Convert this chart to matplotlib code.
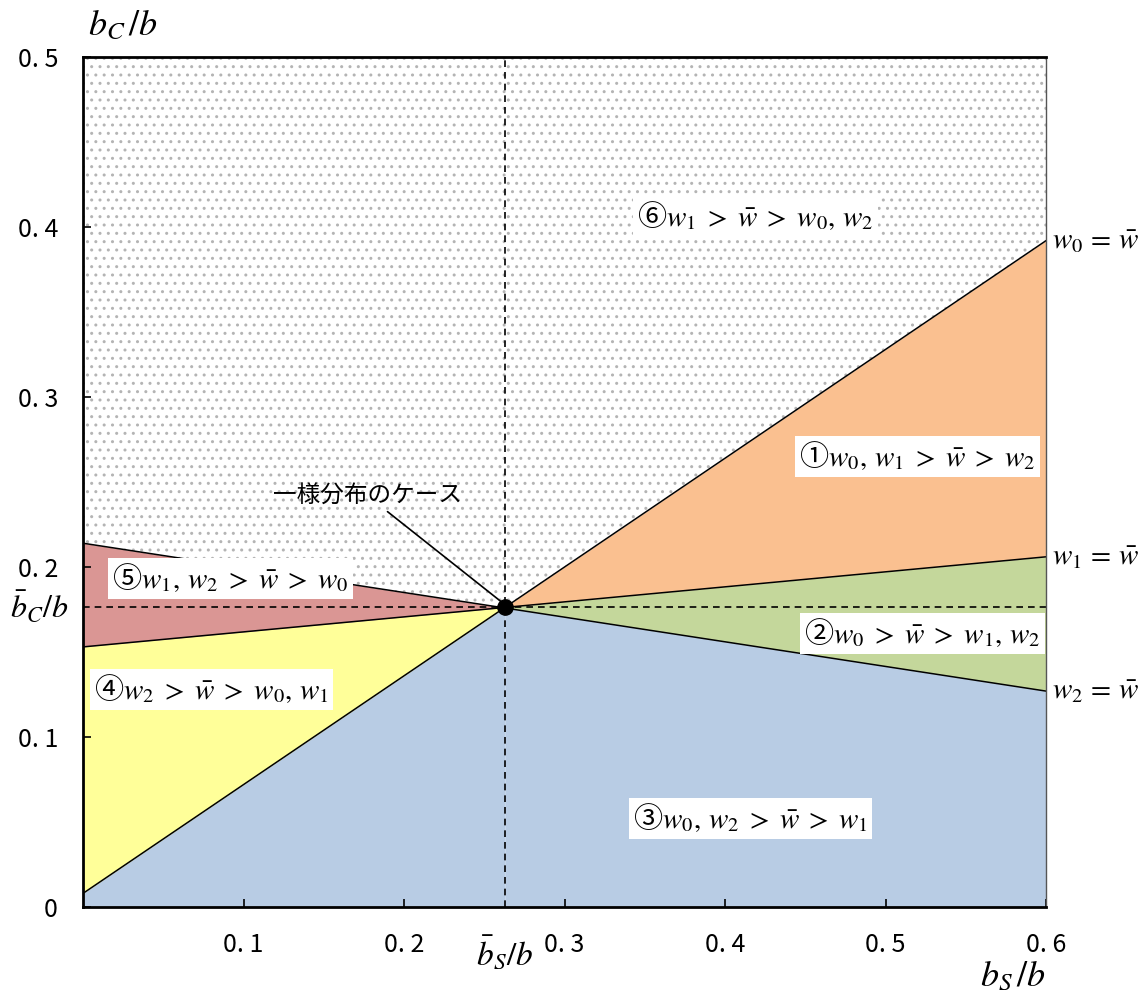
import matplotlib
matplotlib.use('Agg')
import matplotlib.pyplot as plt
import numpy as np

plt.rcParams['font.family'] = ['Noto Sans CJK JP', 'DejaVu Sans']
plt.rcParams['mathtext.fontset'] = 'stix'
plt.rcParams['hatch.linewidth'] = 1.0

# uniform-distribution point
bs_bar = 0.263
bc_bar = 0.1765

# boundary lines, value at bs/b = 0 and bs/b = 0.6
x_ends = [0.0, 0.6]
w0_ends = [0.008, 0.392]
w1_ends = [0.153, 0.206]
w2_ends = [0.214, 0.127]

x_ticks = [0.1, 0.2, 0.3, 0.4, 0.5, 0.6]
x_ticklabels = ['0. 1', '0. 2', '0. 3', '0. 4', '0. 5', '0. 6']
y_ticks = [0.0, 0.1, 0.2, 0.3, 0.4, 0.5]
y_ticklabels = ['0', '0. 1', '0. 2', '0. 3', '0. 4', '0. 5']

G = r'\;>\;'
region_labels = [
    r'⑥$w_1' + G + r'\bar{w}' + G + r'w_0,\, w_2$',
    r'①$w_0,\, w_1' + G + r'\bar{w}' + G + r'w_2$',
    r'②$w_0' + G + r'\bar{w}' + G + r'w_1,\, w_2$',
    r'③$w_0,\, w_2' + G + r'\bar{w}' + G + r'w_1$',
    r'④$w_2' + G + r'\bar{w}' + G + r'w_0,\, w_1$',
    r'⑤$w_1,\, w_2' + G + r'\bar{w}' + G + r'w_0$',
]
region_pos = [(0.419, 0.406), (0.520, 0.265), (0.523, 0.161),
              (0.416, 0.052), (0.080, 0.128), (0.092, 0.193)]

c_orange = '#FAC090'
c_green = '#C4D79B'
c_blue = '#B8CCE4'
c_yellow = '#FFFF99'
c_red = '#DA9694'


def line(ends, x):
    return np.interp(x, x_ends, ends)


xl = np.array([0.0, bs_bar])
xr = np.array([bs_bar, 0.6])

fig = plt.figure(figsize=(11.48, 9.99), dpi=100)
ax = fig.add_axes([0.0723, 0.0921, 0.8389, 0.8508])

# regions
ax.fill_between(xl, line(w2_ends, xl), 0.5, facecolor='white', hatch='..',
                edgecolor='#b4b4b4', linewidth=0)
ax.fill_between(xr, line(w0_ends, xr), 0.5, facecolor='white', hatch='..',
                edgecolor='#b4b4b4', linewidth=0)
ax.fill_between(xr, line(w1_ends, xr), line(w0_ends, xr), color=c_orange, lw=0)
ax.fill_between(xr, line(w2_ends, xr), line(w1_ends, xr), color=c_green, lw=0)
ax.fill_between(xr, 0, line(w2_ends, xr), color=c_blue, lw=0)
ax.fill_between(xl, 0, line(w0_ends, xl), color=c_blue, lw=0)
ax.fill_between(xl, line(w0_ends, xl), line(w1_ends, xl), color=c_yellow, lw=0)
ax.fill_between(xl, line(w1_ends, xl), line(w2_ends, xl), color=c_red, lw=0)

for ends in (w0_ends, w1_ends, w2_ends):
    ax.plot(x_ends, ends, color='black', lw=1.1)

# reference lines through the uniform case
ax.plot([bs_bar, bs_bar], [0, 0.5], color='black', lw=1.2, ls=(0, (4, 3)))
ax.plot([0, 0.6], [bc_bar, bc_bar], color='black', lw=1.2, ls=(0, (4, 3)))
ax.plot([bs_bar], [bc_bar], 'o', color='black', ms=11, zorder=5)

ax.annotate('一様分布のケース', xy=(bs_bar - 0.001, bc_bar + 0.002),
            xytext=(0.236, 0.242), ha='right', va='center', fontsize=17,
            arrowprops=dict(arrowstyle='-', color='black', lw=1.2,
                            shrinkA=2, shrinkB=0))

for txt, (px, py) in zip(region_labels, region_pos):
    ax.text(px, py, txt, ha='center', va='center', fontsize=21,
            bbox=dict(facecolor='white', edgecolor='none', pad=3))

# line names on the right edge
for i, ends in enumerate((w0_ends, w1_ends, w2_ends)):
    ax.text(0.6035, ends[1], r'$w_%d\,=\,\bar{w}$' % i,
            ha='left', va='center', fontsize=21)

ax.set_xlim(0, 0.6)
ax.set_ylim(0, 0.5)
ax.set_xticks(x_ticks)
ax.set_xticklabels(x_ticklabels)
ax.set_yticks(y_ticks)
ax.set_yticklabels(y_ticklabels)
ax.tick_params(direction='in', length=6, width=1.2, labelsize=18)
ax.tick_params(axis='x', pad=18)
ax.tick_params(axis='y', pad=18)

ax.text(-0.009, bc_bar, r'$\bar{b}_C/b$', ha='right', va='center', fontsize=23)
ax.text(bs_bar, -0.016, r'$\bar{b}_S/b$', ha='center', va='top', fontsize=24)
ax.text(0.003, 0.508, r'$b_C\,/b$', ha='left', va='bottom', fontsize=26)
ax.text(0.6, -0.041, r'$b_S\,/b$', ha='right', va='center', fontsize=26)

for s in ('left', 'bottom', 'top'):
    ax.spines[s].set_linewidth(2.0)
    ax.spines[s].set_color('black')
ax.spines['right'].set_linewidth(1.0)
ax.spines['right'].set_color('#555555')

fig.savefig('out.png', dpi=100)
